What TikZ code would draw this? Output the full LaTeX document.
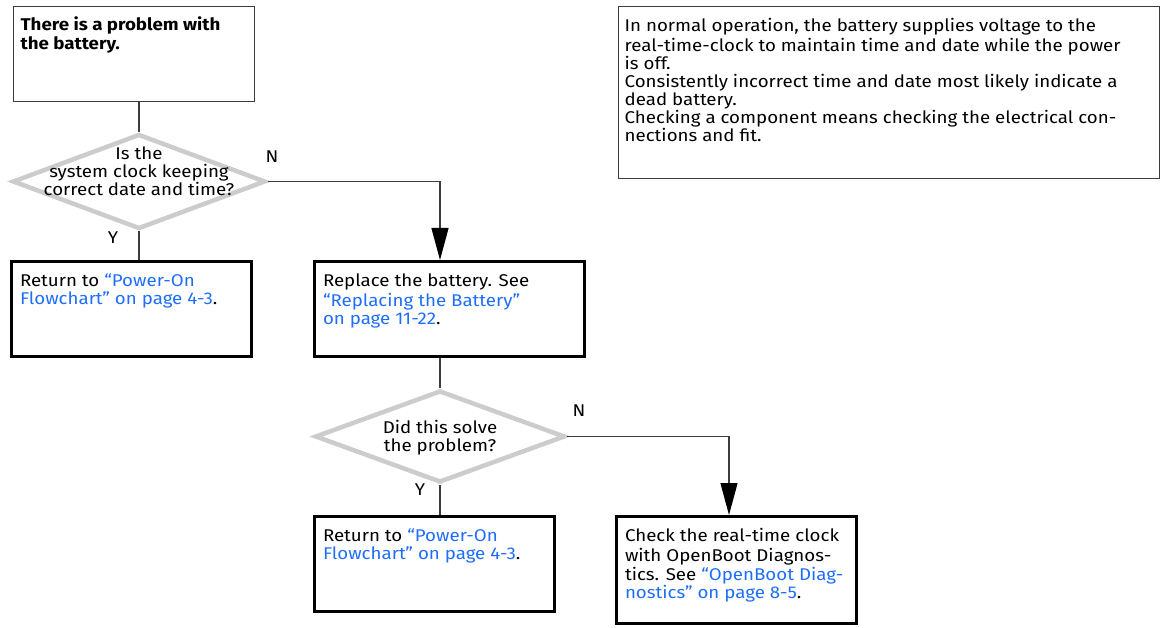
\documentclass[tikz,border=0pt]{standalone}
\usepackage{fontspec}
\setmainfont{Fira Sans}[FakeStretch=1.1]
\usetikzlibrary{shapes.geometric,arrows.meta}

\definecolor{xrefblue}{RGB}{30,110,250}
\definecolor{diamondgray}{RGB}{204,204,204}
\definecolor{wiregray}{RGB}{60,60,60}

% keep the line pitch fixed
\lineskiplimit=-10pt

% cross reference text and the body of a box (width, height, text)
\def\xref#1{\textcolor{xrefblue}{#1}}
\def\boxbody#1#2#3{\parbox[t][#2][t]{#1}{\raggedright\strut #3}}

\tikzset{
	startbox/.style={draw=wiregray,line width=1.3pt,anchor=north west,inner xsep=7pt,inner ysep=10pt,
		font=\fontsize{17}{18}\selectfont\bfseries},
	stepbox/.style={draw=black,line width=3pt,anchor=north west,inner xsep=8.5pt,inner ysep=12pt},
	notebox/.style={draw=wiregray,line width=1.3pt,anchor=north west,inner xsep=6pt,inner ysep=12pt,
		font=\fontsize{17}{18}\selectfont},
	decision/.style={diamond,draw=diamondgray,line width=4.5pt,inner sep=0pt},
	question/.style={align=center,inner sep=0pt,font=\fontsize{17}{18}\selectfont},
	answer/.style={inner sep=0pt},
	wire/.style={draw=wiregray,line width=1.2pt},
	arrow/.style={wire,-{Triangle[width=17pt,length=32pt,color=black]}},
}

\begin{document}
\begin{tikzpicture}[x=1pt,y=-1pt,font=\fontsize{17}{18.5}\selectfont]
	\useasboundingbox (0,0) rectangle (1161,628);

	% boxes
	\node[startbox] (start) at (13,6) {\boxbody{227pt}{75pt}{There is a problem with\\the battery.}};
	\node[stepbox] (ret1) at (10,260) {\boxbody{223pt}{71pt}{Return to \xref{“Power-On\\Flowchart” on page 4-3}.}};
	\node[stepbox] (repl) at (313,260) {\boxbody{253pt}{71pt}{Replace the battery. See\\\xref{“Replacing the Battery”\\on page 11-22}.}};
	\node[stepbox] (ret2) at (313,515) {\boxbody{223pt}{71pt}{Return to \xref{“Power-On\\Flowchart” on page 4-3}.}};
	\node[stepbox] (chk) at (615,515) {\boxbody{223pt}{83pt}{Check the real-time clock\\with OpenBoot Diagnos-\\tics. See \xref{“OpenBoot Diag-\\nostics” on page 8-5}.}};

	% note on the right
	\node[notebox] (note) at (618,6) {\boxbody{529pt}{148pt}{In normal operation, the battery supplies voltage to the\\
		real-time-clock to maintain time and date while the power\\
		is off.\\
		Consistently incorrect time and date most likely indicate a\\
		dead battery.\\
		Checking a component means checking the electrical con-\\
		nections and fit.}};

	% questions
	\node[decision,minimum width=253pt,minimum height=95pt] (q1) at (139,181.5) {};
	\node[question] (q1t) at ([yshift=10pt]q1) {Is the\\system clock keeping\\correct date and time?};
	\node[decision,minimum width=250pt,minimum height=92pt] (q2) at (440,436.5) {};
	\node[question] (q2t) at ([yshift=-1pt]q2) {Did this solve\\the problem?};

	% answers
	\node[answer] (n1) at (272,157) {N};
	\node[answer] (y1) at (113,238) {Y};
	\node[answer] (n2) at (579,411) {N};
	\node[answer] (y2) at (420,490) {Y};

	% first question
	\draw[wire] (start.south -| q1.north) -- (q1.north);
	\draw[wire] (q1.south) -- (q1.south |- ret1.north);
	\draw[arrow] (q1.east) -| (q2.north |- repl.north);

	% second question
	\draw[wire] (repl.south -| q2.north) -- (q2.north);
	\draw[wire] (q2.south) -- (q2.south |- ret2.north);
	\draw[arrow] (q2.east) -| ([xshift=-7.5pt]chk.north);
\end{tikzpicture}
\end{document}
